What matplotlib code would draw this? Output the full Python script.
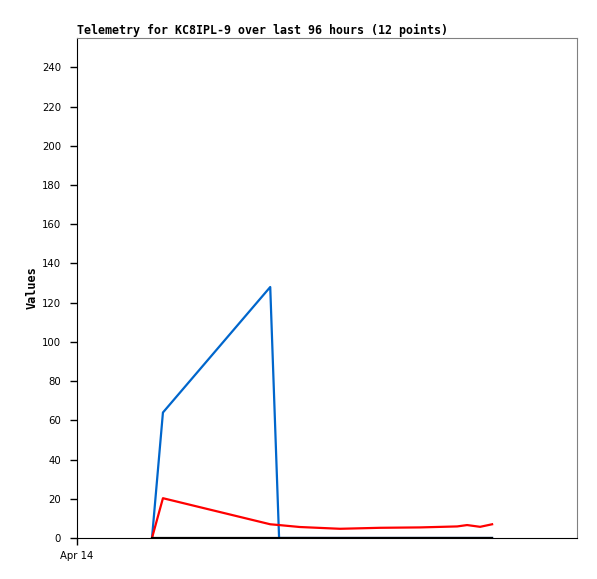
import matplotlib
matplotlib.use('Agg')
import matplotlib.pyplot as plt

# hours since Apr 14 00:00
hours = [14.4, 16.5, 37.1, 38.8, 42.8, 50.5, 58.2, 65.9, 73.0, 74.9, 77.4, 79.7]
blue = [0, 64, 128, 0, 0, 0, 0, 0, 0, 0, 0, 0]
red = [0, 20.3, 7.0, 6.6, 5.6, 4.7, 5.2, 5.4, 5.9, 6.6, 5.7, 7.0]
black = [0] * 12

yticks = list(range(0, 241, 20))
xticks = [0]
xlabels = ['Apr 14']

fig = plt.figure(figsize=(5.97, 5.79), dpi=100)
ax = fig.add_axes([77/597, 41/579, 500/597, 500/579])

ax.plot(hours, blue, color='#0066cc', lw=1.6)
ax.plot(hours, red, color='#ff0000', lw=1.6)
ax.plot(hours, black, color='#000000', lw=1.6)

ax.set_xlim(0, 96)
ax.set_ylim(0, 255)
ax.set_yticks(yticks)
ax.set_yticklabels([str(v) for v in yticks], fontsize=7.3, family='DejaVu Sans')
ax.set_xticks(xticks)
ax.set_xticklabels(xlabels, fontsize=7.3, family='DejaVu Sans')
ax.tick_params(axis='y', direction='out', length=5, width=1, pad=6.5)
ax.tick_params(axis='x', direction='out', length=5, width=1, pad=4.5)

for s in ['top', 'right']:
    ax.spines[s].set_color('#808080')
for s in ['left', 'bottom']:
    ax.spines[s].set_color('#000000')

ax.set_title('Telemetry for KC8IPL-9 over last 96 hours (12 points)', loc='left',
             fontsize=8.4, fontweight='bold', family='DejaVu Sans Mono', pad=3)
ax.set_ylabel('Values', fontsize=8.6, fontweight='bold', family='DejaVu Sans Mono', labelpad=2)

fig.savefig('out.png', dpi=100)
